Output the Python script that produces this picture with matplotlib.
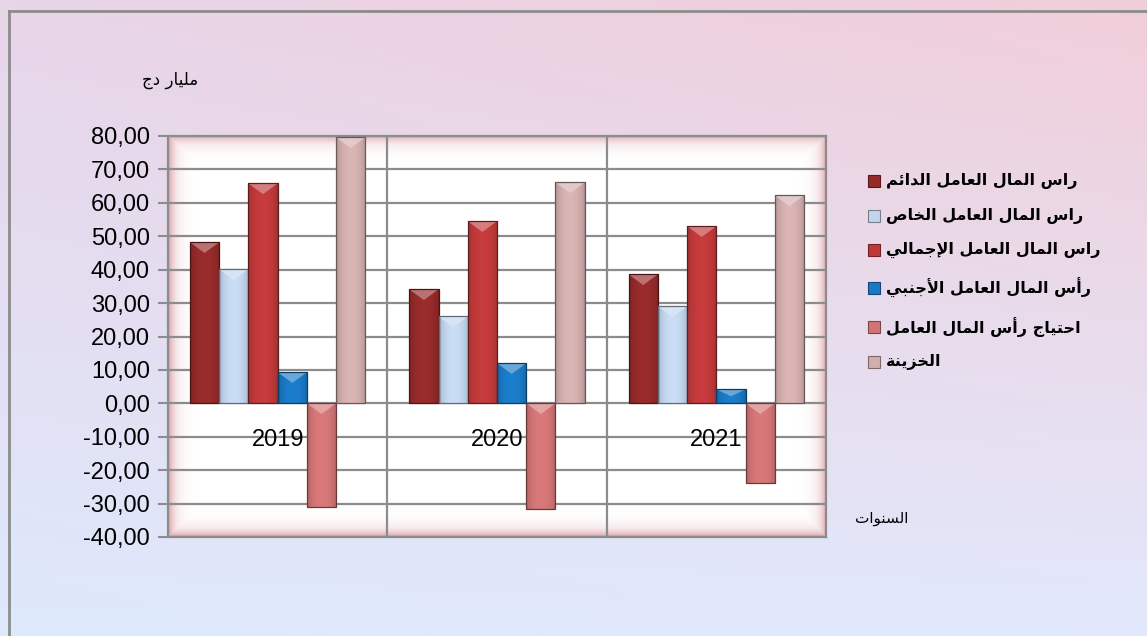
import numpy as np
import matplotlib
matplotlib.use("Agg")
import matplotlib.pyplot as plt
from matplotlib.patches import Rectangle, Polygon
from matplotlib.lines import Line2D
from matplotlib.colors import to_rgb

# ---------------- data ----------------
years = ["2019", "2020", "2021"]
series_names = [
    "راس المال العامل الدائم",
    "راس المال العامل الخاص",
    "راس المال العامل الإجمالي",
    "رأس المال العامل الأجنبي",
    "احتياج رأس المال العامل",
    "الخزينة",
]
permanent_wc = [48.2, 34.1, 38.6]
private_wc = [40.1, 26.0, 29.0]
gross_wc = [65.8, 54.5, 53.0]
foreign_wc = [9.3, 12.0, 4.2]
wc_need = [-31.1, -31.7, -23.9]
treasury = [79.6, 66.1, 62.2]
series_values = [permanent_wc, private_wc, gross_wc, foreign_wc, wc_need, treasury]
series_colors = ["#952a2a", "#c2d5ed", "#c0393a", "#1a79c4", "#d27475", "#d3aeae"]
y_ticks = [-40, -30, -20, -10, 0, 10, 20, 30, 40, 50, 60, 70, 80]
y_unit = "مليار دج"
x_title = "السنوات"

# ---------------- minimal Arabic shaping ----------------
FORMS = {
    '\u0627': ('\uFE8D', '\uFE8E', None, None),
    '\u0623': ('\uFE83', '\uFE84', None, None),
    '\u0625': ('\uFE87', '\uFE88', None, None),
    '\u0628': ('\uFE8F', '\uFE90', '\uFE91', '\uFE92'),
    '\u0629': ('\uFE93', '\uFE94', None, None),
    '\u062A': ('\uFE95', '\uFE96', '\uFE97', '\uFE98'),
    '\u062C': ('\uFE9D', '\uFE9E', '\uFE9F', '\uFEA0'),
    '\u062D': ('\uFEA1', '\uFEA2', '\uFEA3', '\uFEA4'),
    '\u062E': ('\uFEA5', '\uFEA6', '\uFEA7', '\uFEA8'),
    '\u062F': ('\uFEA9', '\uFEAA', None, None),
    '\u0631': ('\uFEAD', '\uFEAE', None, None),
    '\u0632': ('\uFEAF', '\uFEB0', None, None),
    '\u0633': ('\uFEB1', '\uFEB2', '\uFEB3', '\uFEB4'),
    '\u0635': ('\uFEB9', '\uFEBA', '\uFEBB', '\uFEBC'),
    '\u0639': ('\uFEC9', '\uFECA', '\uFECB', '\uFECC'),
    '\u0644': ('\uFEDD', '\uFEDE', '\uFEDF', '\uFEE0'),
    '\u0645': ('\uFEE1', '\uFEE2', '\uFEE3', '\uFEE4'),
    '\u0646': ('\uFEE5', '\uFEE6', '\uFEE7', '\uFEE8'),
    '\u0648': ('\uFEED', '\uFEEE', None, None),
    '\u064A': ('\uFEF1', '\uFEF2', '\uFEF3', '\uFEF4'),
    '\u0626': ('\uFE89', '\uFE8A', '\uFE8B', '\uFE8C'),
}
LAM_ALEF = {'\u0627': ('\uFEFB', '\uFEFC'), '\u0623': ('\uFEF7', '\uFEF8'),
            '\u0625': ('\uFEF9', '\uFEFA')}


def shape(s):
    def dual(c):
        return c in FORMS and FORMS[c][2] is not None
    out, i, n, prev = [], 0, len(s), None
    while i < n:
        c = s[i]
        if c not in FORMS:
            out.append(c); prev = None; i += 1; continue
        jp = prev is not None and dual(prev)
        if c == '\u0644' and i + 1 < n and s[i + 1] in LAM_ALEF:
            out.append(LAM_ALEF[s[i + 1]][1 if jp else 0]); prev = s[i + 1]; i += 2; continue
        nxt = s[i + 1] if i + 1 < n else None
        jn = dual(c) and nxt is not None and nxt in FORMS
        f = FORMS[c]
        g = f[3] if (jp and jn) else f[1] if jp else f[2] if jn else f[0]
        out.append(g); prev = c; i += 1
    return ''.join(reversed(out))


W, H = 1147, 636
fig = plt.figure(figsize=(W / 100, H / 100), dpi=100)

# ---------------- background gradient ----------------
bg = fig.add_axes([0, 0, 1, 1], zorder=-10)
bg.set_axis_off()
tl = np.array([232, 213, 232]) / 255
tr = np.array([241, 206, 217]) / 255
bl = np.array([222, 233, 252]) / 255
br = np.array([226, 232, 252]) / 255
yy, xx = np.mgrid[0:1:120j, 0:1:200j]
img = ((1 - yy)[..., None] * ((1 - xx)[..., None] * tl + xx[..., None] * tr)
       + yy[..., None] * ((1 - xx)[..., None] * bl + xx[..., None] * br))
bg.imshow(img, extent=[0, 1, 0, 1], aspect='auto', origin='upper', interpolation='bilinear')
bg.set_xlim(0, 1); bg.set_ylim(0, 1)
fig.add_artist(Line2D([9 / W, 9 / W], [0, 1 - 11 / H], transform=fig.transFigure, color="#8c8c8c", lw=2))
fig.add_artist(Line2D([9 / W, 1], [1 - 11 / H, 1 - 11 / H], transform=fig.transFigure, color="#8c8c8c", lw=2))

# ---------------- main axes ----------------
ax_l, ax_r, ax_t, ax_b = 168, 826, 136, 537
ax = fig.add_axes([ax_l / W, 1 - ax_b / H, (ax_r - ax_l) / W, (ax_b - ax_t) / H])
ax.set_facecolor("white")

# inner pink glow
pw, ph = ax_r - ax_l, ax_b - ax_t
gy, gx = np.mgrid[0:ph, 0:pw]
d = np.minimum.reduce([gx, pw - 1 - gx, gy, ph - 1 - gy]).astype(float)
a = 0.8 * np.exp(-d / 6.0)
glow = np.ones((ph, pw, 4))
glow[..., :3] = np.array([0.82, 0.52, 0.55])
glow[..., 3] = a
ax.imshow(glow, extent=[0, 1, 0, 1], transform=ax.transAxes, aspect='auto', zorder=0.5)

n_series = len(series_values)
group_w = 0.8
bw = group_w / n_series
x = np.arange(len(years))

for k, (vals, col) in enumerate(zip(series_values, series_colors)):
    xs = x - group_w / 2 + bw * (k + 0.5)
    bars = ax.bar(xs, vals, width=bw, color=col, edgecolor="#6e3a3a", linewidth=0.6, zorder=3)
    base = np.array(to_rgb(col))
    t = np.linspace(0, 1, 60)
    prof = 0.80 + 0.24 * np.sin(np.pi * t) ** 0.5
    grad = np.clip(base[None, :] * prof[:, None], 0, 1)
    grad = grad[None, :, :]
    for b in bars:
        x0, w_ = b.get_x(), b.get_width()
        y0, h_ = b.get_y(), b.get_height()
        im = ax.imshow(grad, extent=[x0, x0 + w_, min(y0, y0 + h_), max(y0, y0 + h_)],
                       aspect='auto', zorder=3.1, interpolation='bilinear')
        im.set_clip_path(b)
        top = max(y0, y0 + h_)
        bev = min(3.2, abs(h_) * 0.5)
        light = tuple(np.clip(base * 0.6 + 0.4, 0, 1))
        ax.add_patch(Polygon([[x0, top], [x0 + w_, top], [x0 + w_ * 0.5, top - bev]],
                             closed=True, facecolor=light, edgecolor='none', alpha=0.85, zorder=3.2))
        ax.add_patch(Rectangle((x0, min(y0, y0 + h_)), w_, abs(h_), fill=False,
                               edgecolor=tuple(base * 0.5), linewidth=0.9, zorder=3.3))

ax.set_xlim(-0.5, len(years) - 0.5)
ax.set_ylim(y_ticks[0], y_ticks[-1])
ax.set_yticks(y_ticks)
ax.set_yticklabels([f"{v:.2f}".replace(".", ",") for v in y_ticks],
                   fontsize=17, family="Liberation Sans", color="black")
ax.set_xticks([])
ax.tick_params(axis='y', direction='out', length=7, width=1.5, color="#8c8c8c", pad=6)
ax.grid(False)
for v in y_ticks:
    ax.axhline(v, color="#8c8c8c", lw=1.6, zorder=1)
for xv in np.arange(0.5, len(years) - 0.5, 1):
    ax.axvline(xv, color="#8c8c8c", lw=1.6, zorder=1)
for s in ax.spines.values():
    s.set_color("#8c8c8c"); s.set_linewidth(1.6)

for xi, yr in zip(x, years):
    ax.text(xi, -11, yr, ha='center', va='center', fontsize=17, family="Liberation Sans", zorder=5)

# unit and axis title
fig.text(170 / W, 1 - 80 / H, shape(y_unit), ha='center', va='center', fontsize=12, family="DejaVu Sans")
fig.text(882 / W, 1 - 518 / H, shape(x_title), ha='center', va='center', fontsize=11, family="DejaVu Sans")

# legend (manual)
leg_y = [181, 216, 250, 288, 327, 362]
for name, col, ly in zip(series_names, series_colors, leg_y):
    fig.add_artist(Rectangle((868 / W, 1 - (ly + 6) / H), 12 / W, 12 / H, transform=fig.transFigure,
                             facecolor=col, edgecolor=tuple(np.array(to_rgb(col)) * 0.6), lw=0.8))
    fig.text(886 / W, 1 - ly / H, shape(name), ha='left', va='center', fontsize=11.5,
             fontweight='bold', family="DejaVu Sans")

fig.savefig("out.png", dpi=100)
